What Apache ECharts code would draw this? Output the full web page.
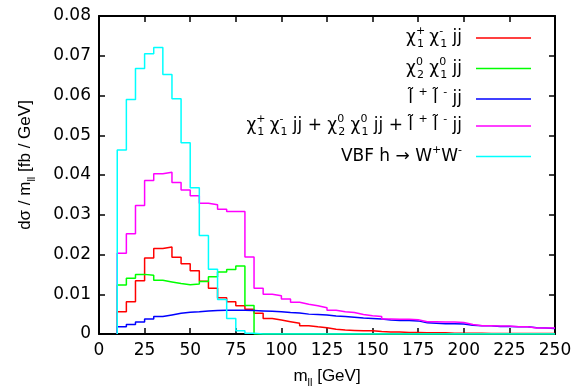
<!DOCTYPE html>
<html>
<head>
<meta charset="utf-8">
<script src="https://cdn.jsdelivr.net/npm/echarts@6/dist/echarts.min.js"></script>
<style>html,body{margin:0;padding:0;background:#fff}#c{width:580px;height:388px}</style>
</head>
<body>
<div id="c"></div>
<script>
// bin left edges (GeV), bin width 5
const binLeft = [10,15,20,25,30,35,40,45,50,55,60,65,70,75,80,85,90,95,100,105,110,115,120,125,130,135,140,145,150,155,160,165,170,175,180,185,190,195,200,205,210,215,220,225,230,235,240,245];
const binLastEdge = 250;

const charginoPair = [0.0056,0.0081,0.0134,0.0191,0.0215,0.0219,0.0193,0.0177,0.0159,0.0133,
  0.0115,0.0091,0.0081,0.0071,0.0062,0.0052,0.0039,0.0035,0.0031,0.0027,
  0.0021,0.0018,0.0016,0.0012,0.0010,0.0009,0.0008,0.0008,0.0006,0.0005,
  0.0005,0.0004,0.0004,0.0003,0.0003,0.0003,0.0002,0.0002,0.0002,0.0002,
  0.0001,0.0001,0.0001,0.0001,0.0001,0.0001,0.0001,0.0001];
const neutralinoPair = [0.0123,0.0140,0.0150,0.0148,0.0135,0.0131,0.0127,0.0124,0.0126,0.0132,
  0.0144,0.0156,0.0162,0.0171,0.0072,0,0,0,0,0,
  0,0,0,0,0,0,0,0,0,0,
  0,0,0,0,0,0,0,0,0,0,
  0,0,0,0,0,0,0,0];
const sleptonPair = [0.0018,0.0024,0.0030,0.0038,0.0044,0.0048,0.0052,0.0055,0.0056,0.0058,
  0.0059,0.0060,0.0060,0.0060,0.0059,0.0058,0.0057,0.0056,0.0054,0.0053,
  0.0050,0.0049,0.0048,0.0045,0.0044,0.0042,0.0040,0.0039,0.0038,0.0035,
  0.0034,0.0034,0.0033,0.0028,0.0027,0.0026,0.0026,0.0025,0.0022,0.0021,
  0.0021,0.0019,0.0019,0.0018,0.0018,0.0016,0.0015,0.0014];
const susySum = [0.0203,0.0252,0.0323,0.0386,0.0403,0.0407,0.0381,0.0362,0.0348,0.0329,
  0.0325,0.0314,0.0308,0.0308,0.0194,0.0115,0.0100,0.0096,0.0088,0.0080,
  0.0075,0.0071,0.0066,0.0060,0.0056,0.0054,0.0049,0.0046,0.0044,0.0038,
  0.0037,0.0037,0.0036,0.0031,0.0031,0.0030,0.0030,0.0029,0.0024,0.0021,
  0.0021,0.0020,0.0020,0.0018,0.0018,0.0015,0.0015,0.0015];
const vbfHiggsWW = [0.0463,0.0590,0.0668,0.0705,0.0721,0.0653,0.0592,0.0481,0.0368,0.0248,
  0.0163,0.0087,0.0039,0.0008,0.0002,0,0,0,0,0,
  0,0,0,0,0,0,0,0,0,0,
  0,0,0,0,0,0,0,0,0,0,
  0,0,0,0,0,0,0,0];

const xTicks = {min: 0, max: 250, interval: 25};
const yTicks = {min: 0, max: 0.08, interval: 0.01};

const seriesNames = ['chargino', 'neutralino', 'slepton', 'sum', 'vbf'];
const seriesColors = ['#ff0000', '#00ff00', '#0000ff', '#ff00ff', '#00ffff'];
const seriesValues = [charginoPair, neutralinoPair, sleptonPair, susySum, vbfHiggsWW];
const legendLabels = {
  chargino: '{b|χ}{sups|+}{sub|1}{b| χ}{sups|-}{sub|1}{b| jj}{g| }',
  neutralino: '{b|χ}{sups|0}{sub|2}{b| χ}{sups|0}{sub|1}{b| jj}{g| }',
  slepton: '{b|l\u0303 }{sup|+}{b| l\u0303 }{sup|-}{b| jj}{g| }',
  sum: '{b|χ}{sups|+}{sub|1}{b| χ}{sups|-}{sub|1}{b| jj + χ}{sups|0}{sub|2}{b| χ}{sups|0}{sub|1}{b| jj + l\u0303 }{sup|+}{b| l\u0303 }{sup|-}{b| jj}{g| }',
  vbf: '{b|VBF h → W}{sup|+}{b|W}{sup|-}{g| }'
};

const FONT = "'Liberation Sans', Arial, sans-serif";
const FONT_WIDE = "'DejaVu Sans', sans-serif";
const legendRich = {
  b: {fontSize: 17, fontFamily: FONT_WIDE, color: '#000', lineHeight: 24, align: 'left'},
  sup: {fontSize: 11, fontFamily: FONT_WIDE, color: '#000', lineHeight: 11, verticalAlign: 'top', align: 'left'},
  sups: {fontSize: 11, fontFamily: FONT_WIDE, color: '#000', lineHeight: 11, verticalAlign: 'top', width: 1, align: 'left'},
  sub: {fontSize: 11, fontFamily: FONT_WIDE, color: '#000', lineHeight: 11, verticalAlign: 'bottom', align: 'left'},
  g: {fontSize: 11, width: 9, align: 'left'}
};
const titleRich = {
  b: {fontSize: 17, fontFamily: FONT, color: '#000', lineHeight: 24},
  sub: {fontSize: 11, fontFamily: FONT, color: '#000', lineHeight: 11, verticalAlign: 'bottom'}
};

function histData(vals) {
  const d = [[binLeft[0], 0]];
  for (let i = 0; i < binLeft.length; i++) d.push([binLeft[i], vals[i]]);
  d.push([binLastEdge, vals[vals.length - 1]]);
  return d;
}

const frameLine = {show: true, onZero: false, lineStyle: {color: '#000', width: 2}};
const tickIn = {show: true, inside: true, length: 6, lineStyle: {color: '#000', width: 1.5}};

const chart = echarts.init(document.getElementById('c'), null, {renderer: 'canvas'});
chart.setOption({
  backgroundColor: '#fff',
  animation: false,
  grid: {left: 99, right: 25, top: 16, bottom: 54, containLabel: false, outerBoundsMode: 'none'},
  legend: {
    orient: 'vertical', right: 49, top: 26, padding: 0, itemGap: 6.5,
    align: 'right', icon: 'rect', itemWidth: 55, itemHeight: 1.5,
    selectedMode: false,
    data: seriesNames,
    formatter: n => legendLabels[n],
    textStyle: {fontSize: 17, fontFamily: FONT_WIDE, color: '#000', rich: legendRich}
  },
  xAxis: [
    {type: 'value', min: xTicks.min, max: xTicks.max, interval: xTicks.interval, position: 'bottom',
     axisLine: frameLine, axisTick: tickIn, splitLine: {show: false},
     axisLabel: {fontSize: 17, fontFamily: FONT_WIDE, color: '#000', margin: 8},
     name: '{b|m}{sub|ll}{b| [GeV]}', nameLocation: 'middle', nameGap: 30,
     nameTextStyle: {rich: titleRich}},
    {type: 'value', min: xTicks.min, max: xTicks.max, interval: xTicks.interval, position: 'top',
     axisLine: frameLine, axisTick: tickIn, splitLine: {show: false}, axisLabel: {show: false}}
  ],
  yAxis: [
    {type: 'value', min: yTicks.min, max: yTicks.max, interval: yTicks.interval, position: 'left',
     axisLine: frameLine, axisTick: tickIn, splitLine: {show: false},
     axisLabel: {fontSize: 17, fontFamily: FONT_WIDE, color: '#000', margin: 8,
       formatter: v => (v === 0 ? '0' : v.toFixed(2))},
     name: '{b|dσ / m}{sub|ll}{b| [fb / GeV]}', nameLocation: 'middle', nameGap: 62,
     nameTextStyle: {rich: titleRich, padding: [0, 0, 0, 20]}},
    {type: 'value', min: yTicks.min, max: yTicks.max, interval: yTicks.interval, position: 'right',
     axisLine: frameLine, axisTick: tickIn, splitLine: {show: false}, axisLabel: {show: false}}
  ],
  series: seriesNames.map((n, i) => ({
    name: n, type: 'line', step: 'end', xAxisIndex: 0, yAxisIndex: 0,
    showSymbol: false, symbol: 'none', color: seriesColors[i],
    lineStyle: {width: 1.5, color: seriesColors[i]},
    data: histData(seriesValues[i]), z: 2 + i
  }))
});
</script>
</body>
</html>
